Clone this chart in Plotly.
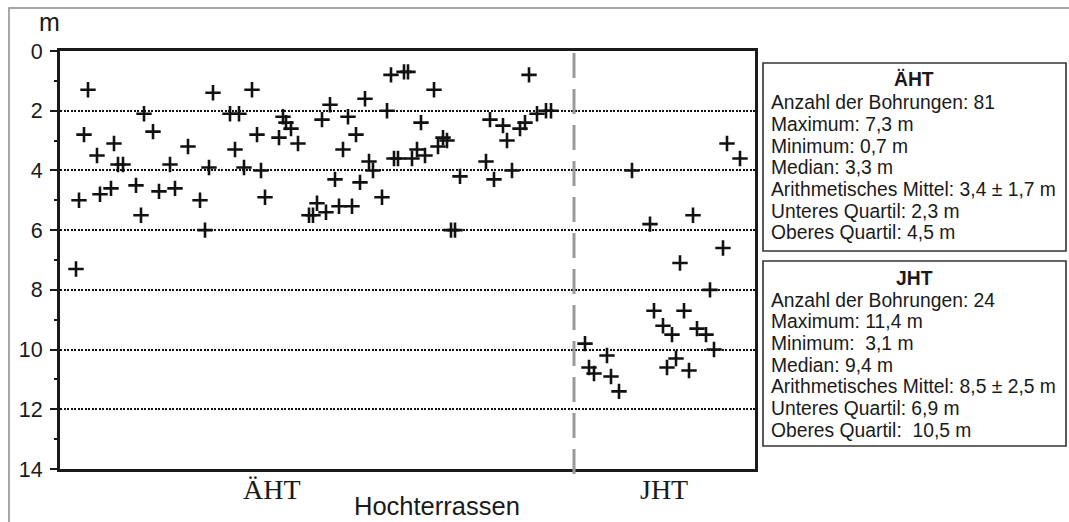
import plotly.graph_objects as go

# ---------------- data ----------------
# horizontal position of each borehole along the section (axis units), and depth in m
aht_pos = [16, 19, 24, 28, 37, 40, 51, 54, 58, 63, 76, 81, 84, 93, 99, 110, 115, 128, 140, 145,
           149, 153, 170, 175, 179, 184, 192, 197, 201, 205, 219, 223, 226, 231, 238, 249, 253, 257,
           262, 266, 270, 275, 279, 283, 288, 292, 296, 300, 305, 309, 313, 322, 327, 331, 334, 338,
           344, 348, 352, 357, 361, 365, 374, 378, 383, 387, 391, 395, 400, 426, 430, 434, 443, 447,
           452, 460, 465, 469, 477, 486, 491]
aht_depth = [7.3, 5.0, 2.8, 1.3, 3.5, 4.8, 4.6, 3.1, 3.8, 3.8, 4.5, 5.5, 2.1, 2.7, 4.7, 3.8, 4.6, 3.2,
             5.0, 6.0, 3.9, 1.4, 2.1, 3.3, 2.1, 3.9, 1.3, 2.8, 4.0, 4.9, 2.9, 2.2, 2.4, 2.6, 3.1, 5.5,
             5.5, 5.1, 2.3, 5.4, 1.8, 4.3, 5.2, 3.3, 2.2, 5.2, 2.8, 4.4, 1.6, 3.7, 4.0, 4.9, 2.0, 0.8,
             3.6, 3.6, 0.7, 0.7, 3.6, 3.3, 2.4, 3.5, 1.3, 3.2, 2.9, 3.0, 6.0, 6.0, 4.2, 3.7, 2.3, 4.3,
             2.5, 3.0, 4.0, 2.6, 2.4, 0.8, 2.1, 2.0, 2.0]

jht_pos = [525, 529, 534, 547, 551, 559, 572, 590, 594, 603, 607, 612, 616, 620, 624, 629, 633, 637,
           646, 650, 654, 663, 667, 680]
jht_depth = [9.8, 10.6, 10.8, 10.2, 10.9, 11.4, 4.0, 5.8, 8.7, 9.2, 10.6, 9.5, 10.3, 7.1, 8.7, 10.7,
             5.5, 9.3, 9.5, 8.0, 10.0, 6.6, 3.1, 3.6]

divider_pos = 514
x_range = [0, 695]
y_ticks = [0, 2, 4, 6, 8, 10, 12, 14]

group_labels = ["ÄHT", "JHT"]
group_label_pos = [212, 604]
x_title = "Hochterrassen"
y_unit = "m"

stats_titles = ["ÄHT", "JHT"]
stats_aht = ["Anzahl der Bohrungen: 81", "Maximum: 7,3 m", "Minimum: 0,7 m", "Median: 3,3 m",
             "Arithmetisches Mittel: 3,4 ± 1,7 m", "Unteres Quartil: 2,3 m", "Oberes Quartil: 4,5 m"]
stats_jht = ["Anzahl der Bohrungen: 24", "Maximum: 11,4 m", "Minimum:  3,1 m", "Median: 9,4 m",
             "Arithmetisches Mittel: 8,5 ± 2,5 m", "Unteres Quartil: 6,9 m", "Oberes Quartil:  10,5 m"]

# ---------------- layout helpers (pixel -> paper) ----------------
W, H = 1069, 522
L, R, T, B = 60, 314, 51, 53
PW, PH = W - L - R, H - T - B


def px(x):
    return (x - L) / PW


def py(y):
    return (H - B - y) / PH


fig = go.Figure()

marker = dict(symbol="cross-thin", size=11, color="#111111",
              line=dict(width=2.6, color="#111111"))
fig.add_trace(go.Scatter(x=aht_pos, y=aht_depth, mode="markers", marker=marker,
                         name="ÄHT", showlegend=False, cliponaxis=False))
fig.add_trace(go.Scatter(x=jht_pos, y=jht_depth, mode="markers", marker=marker,
                         name="JHT", showlegend=False, cliponaxis=False))

shapes = []
# dashed divider
shapes.append(dict(type="line", xref="x", yref="paper", x0=divider_pos, x1=divider_pos,
                   y0=py(53), y1=py(480), line=dict(color="#9a9a9a", width=3, dash="25px,11px")))
# outer frame
shapes.append(dict(type="rect", xref="paper", yref="paper", x0=px(9), x1=px(1090),
                   y0=py(8), y1=py(540), line=dict(color="#8a8a8a", width=1.5), layer="below"))
# statistics boxes
for (top, bottom) in [(63, 251), (261, 446)]:
    shapes.append(dict(type="rect", xref="paper", yref="paper", x0=px(763), x1=px(1066),
                       y0=py(top), y1=py(bottom), line=dict(color="#333333", width=1.6),
                       fillcolor="white"))

annotations = []
box_font = dict(family="Liberation Sans, Arial, sans-serif", size=19.3, color="#1a1a1a")
for title, lines, ty, ly in [(stats_titles[0], stats_aht, 79, 102.7),
                             (stats_titles[1], stats_jht, 278, 300)]:
    annotations.append(dict(text="<b>" + title + "</b>", xref="paper", yref="paper",
                            x=px(914), y=py(ty), xanchor="center", yanchor="middle",
                            showarrow=False, font=box_font, borderpad=0))
    for i, line in enumerate(lines):
        annotations.append(dict(text=line, xref="paper", yref="paper",
                                x=px(770), y=py(ly + 21.7 * i), xanchor="left",
                                yanchor="middle", showarrow=False, font=box_font, borderpad=0))

for lab, pos in zip(group_labels, group_label_pos):
    annotations.append(dict(text=lab, xref="x", yref="paper", x=pos, y=py(489),
                            xanchor="center", yanchor="middle", showarrow=False,
                            font=dict(family="Liberation Serif, Times New Roman, serif",
                                      size=28, color="#1a1a1a")))
annotations.append(dict(text=x_title, xref="paper", yref="paper", x=px(437), y=py(506),
                        xanchor="center", yanchor="middle", showarrow=False, borderpad=0,
                        font=dict(family="Liberation Sans, Arial, sans-serif", size=25.5,
                                  color="#1a1a1a")))
annotations.append(dict(text=y_unit, xref="paper", yref="paper", x=px(49), y=py(22),
                        xanchor="center", yanchor="middle", showarrow=False,
                        font=dict(family="Liberation Sans, Arial, sans-serif", size=25,
                                  color="#1a1a1a")))

fig.update_layout(
    width=W, height=H,
    margin=dict(l=L, r=R, t=T, b=B, pad=0),
    paper_bgcolor="white", plot_bgcolor="white",
    shapes=shapes, annotations=annotations,
    showlegend=False,
)
fig.update_xaxes(range=x_range, showgrid=False, zeroline=False, showticklabels=False,
                 ticks="", showline=True, linewidth=3, linecolor="#1a1a1a", mirror=True)
fig.update_yaxes(range=[14, 0], tickvals=y_ticks, ticks="outside", ticklen=7, tickwidth=1.5,
                 tickcolor="#1a1a1a", showline=True, linewidth=3, linecolor="#1a1a1a",
                 mirror=True, zeroline=False, showgrid=True, gridcolor="#111111", gridwidth=1.5,
                 griddash="2px,1.5px", ticklabelstandoff=3,
                 tickfont=dict(family="Liberation Sans, Arial, sans-serif", size=21.5,
                               color="#1a1a1a"),
                 minor=dict(tickvals=[1, 3, 5, 7, 9, 11, 13], ticks="outside", ticklen=3,
                            tickwidth=1.5, tickcolor="#1a1a1a", showgrid=False))

fig.write_html("out.html")
